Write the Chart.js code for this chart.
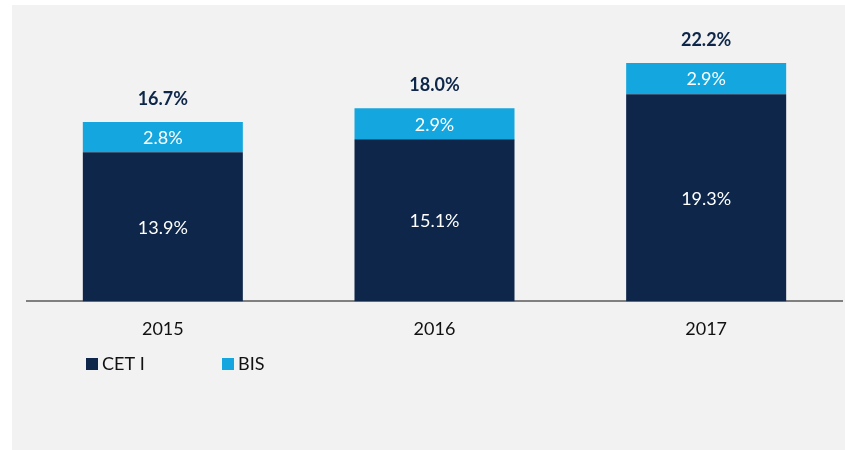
<!DOCTYPE html>
<html>
<head>
<meta charset="utf-8">
<script src="https://cdn.jsdelivr.net/npm/chart.js@4.4.0/dist/chart.umd.min.js"></script>
<style>
  body { margin: 0; background: #fff; }
  .panel { position: absolute; left: 12px; top: 5px; width: 833px; height: 445px; background: #f2f2f2; }
</style>
</head>
<body>
<div class="panel"><canvas id="myChart1" width="833" height="445"></canvas></div>
<script>
// values
var years = ["2015", "2016", "2017"];
var cet1 = [13.9, 15.1, 19.3];
var bis = [2.8, 2.9, 2.9];
var totals = [16.7, 18.0, 22.2];

var navy = "#0d2649";
var blue = "#14a6de";
var fontFam = "'Gill Sans MT', 'Gill Sans', Lato, sans-serif";

// labels inside the segments and totals on top
var labelPlugin = {
  id: "labels",
  afterDatasetsDraw: function(chart){
    var ctx = chart.ctx;
    ctx.save();
    ctx.textAlign = "center";
    ctx.textBaseline = "middle";
    chart.data.datasets.forEach(function(ds, i){
      var meta = chart.getDatasetMeta(i);
      meta.data.forEach(function(bar, j){
        ctx.fillStyle = "#ffffff";
        ctx.font = "18px " + fontFam;
        ctx.fillText(ds.data[j].toFixed(1) + "%", bar.x, (bar.y + bar.base) / 2 + 1);
        if(i == chart.data.datasets.length - 1){
          ctx.fillStyle = navy;
          ctx.font = "bold 18px " + fontFam;
          ctx.fillText(totals[j].toFixed(1) + "%", bar.x, bar.y - 23);
        }
      });
    });
    ctx.restore();
  }
};

// legend under the axis, left side
var legendPlugin = {
  id: "legendBoxes",
  afterDraw: function(chart){
    var ctx = chart.ctx;
    var xs = [74, 210];
    ctx.save();
    ctx.font = "18px " + fontFam;
    ctx.textBaseline = "middle";
    ctx.textAlign = "left";
    chart.data.datasets.forEach(function(ds, i){
      ctx.fillStyle = ds.backgroundColor;
      ctx.fillRect(xs[i], 353, 12, 12);
      ctx.fillStyle = "#111111";
      ctx.fillText(ds.label, xs[i] + 16, 359);
    });
    ctx.restore();
  }
};

new Chart("myChart1", {
  type: "bar",
  data: {
    labels: years,
    datasets: [
      { label: "CET I", data: cet1, backgroundColor: navy },
      { label: "BIS", data: bis, backgroundColor: blue }
    ]
  },
  options: {
    responsive: false,
    animation: false,
    layout: { padding: { left: 15, right: 3, top: 28, bottom: 93 } },
    datasets: { bar: { barPercentage: 1, categoryPercentage: 0.589 } },
    plugins: {
      legend: { display: false },
      tooltip: { enabled: false }
    },
    scales: {
      x: {
        stacked: true,
        grid: { display: false, drawTicks: false },
        border: { display: true, color: "#808080", width: 2 },
        ticks: { color: "#111111", padding: 17, font: { family: fontFam, size: 18 } }
      },
      y: {
        stacked: true,
        display: false,
        min: 0,
        max: 25
      }
    }
  },
  plugins: [labelPlugin, legendPlugin]
});
</script>
</body>
</html>
